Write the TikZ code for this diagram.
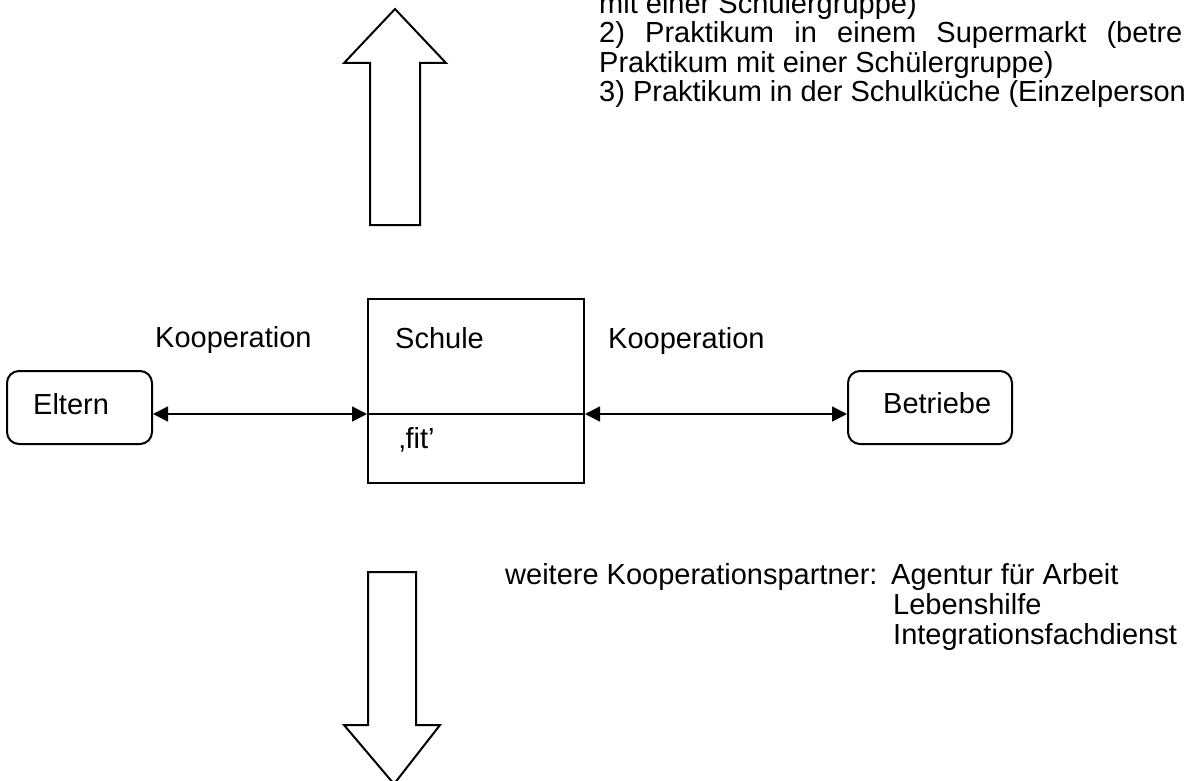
\documentclass[tikz,border=0pt]{standalone}
\usepackage{fontspec}
\setmainfont{Liberation Sans}
\usetikzlibrary{arrows.meta}
\begin{document}
\begin{tikzpicture}[x=1pt,y=-1pt,
  txt/.style={anchor=base west, inner sep=0pt, font=\fontsize{29}{30}\selectfont},
  rbox/.style={draw, line width=2pt, rounded corners=12pt, minimum height=73pt, inner sep=0pt},
  sbox/.style={draw, line width=2pt, minimum width=216pt, minimum height=184pt, inner sep=0pt},
  blockarrow/.style={draw, line width=2pt, line join=miter},
  conn/.style={{Triangle[length=15pt,width=15pt]}-{Triangle[length=15pt,width=15pt]}, line width=1.6pt},
  divider/.style={line width=1.6pt}]
\useasboundingbox (0,0) rectangle (1184,781);
\clip (0,0) rectangle (1184,781);

% block arrows
\draw[blockarrow] (395,9) -- (446,63) -- (420,63) -- (420,225) -- (370,225) -- (370,63) -- (344,63) -- cycle;
\draw[blockarrow] (368,572) -- (416,572) -- (416,725) -- (440,725) -- (394,784) -- (344,725) -- (368,725) -- cycle;

% boxes
\node[rbox, minimum width=145pt] (eltern) at (79.5,407.5) {};
\node[txt] (elterntxt) at (33,414) {Eltern};
\node[sbox] (schule) at (476,391) {};
\node[txt] (schuletxt) at (395,348) {Schule};
\node[txt] (fittxt) at (399,448) {‚fit’};
\node[rbox, minimum width=164pt] (betriebe) at (930,407.5) {};
\node[txt] (betriebetxt) at (883,413) {Betriebe};

\coordinate (dl) at (schule.west |- 0,414);
\coordinate (dr) at (schule.east |- 0,414);
\draw[divider] (dl) -- (dr);
\draw[conn] (eltern.east |- dl) -- (dl);
\draw[conn] (dr) -- (betriebe.west |- dr);

\node[txt] (koopl) at (155,347) {Kooperation};
\node[txt] (koopr) at (608,348) {Kooperation};

% top text
\node[txt] (t1) at (599,14) {mit einer Schülergruppe)};
\node[txt] (t2) at (599,43) {\makebox[638pt][s]{2) Praktikum in einem Supermarkt (betreutes}};
\node[txt] (t3) at (599,73) {Praktikum mit einer Schülergruppe)};
\node[txt] (t4) at (599,102) {3) Praktikum in der Schulküche (Einzelperson)};

% bottom text
\node[txt] (w1) at (505,584) {weitere Kooperationspartner:};
\node[txt] (w2) at (891,584) {Agentur für Arbeit};
\node[txt] (w3) at (893,614) {Lebenshilfe};
\node[txt] (w4) at (893,644) {Integrationsfachdienst};
\end{tikzpicture}
\end{document}
